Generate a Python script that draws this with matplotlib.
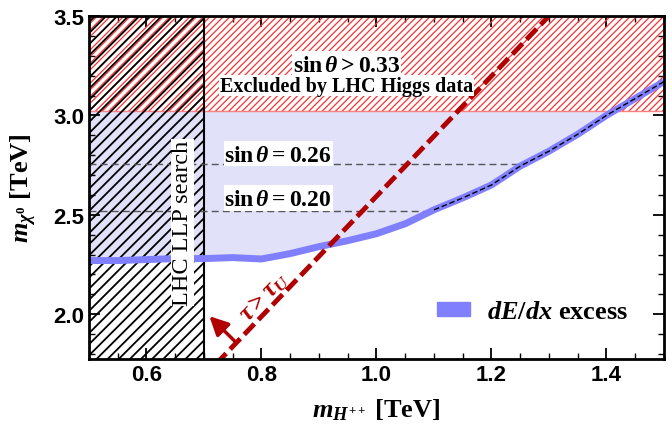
import numpy as np
import matplotlib.pyplot as plt
from matplotlib.patches import Patch

plt.rcParams['mathtext.fontset'] = 'custom'
plt.rcParams['mathtext.rm'] = 'Liberation Serif:bold'
plt.rcParams['mathtext.bf'] = 'Liberation Serif:bold'
plt.rcParams['mathtext.it'] = 'Liberation Serif:italic:bold'
plt.rcParams['hatch.linewidth'] = 1.0

# dE/dx excess band (lower edge of allowed region)
curve_x = [0.5, 0.55, 0.6, 0.65, 0.7, 0.75, 0.8, 0.85, 0.9, 0.95, 1.0,
           1.05, 1.1, 1.15, 1.2, 1.25, 1.3, 1.35, 1.4, 1.45, 1.5]
curve_y = [2.27, 2.27, 2.275, 2.28, 2.28, 2.285, 2.278, 2.305, 2.34, 2.37, 2.405,
           2.455, 2.525, 2.585, 2.65, 2.745, 2.82, 2.905, 3.0, 3.085, 3.17]

higgs_limit = 3.02          # sin theta > 0.33 excluded above this
llp_limit = 0.7             # LHC LLP search excludes below this
sin_levels = [2.756, 2.518]
sin_labels = [r'$\sin\theta = 0.26$', r'$\sin\theta = 0.20$']
sin_label_y = [2.807, 2.585]

# tau > tau_U line and arrow
tau_x = [0.721, 1.31]
tau_y = [1.75, 3.53]
arrow_tail = (0.758, 1.852)
arrow_head = (0.706, 2.0)

xlim = (0.5, 1.5)
ylim = (1.775, 3.5)

dark_red = '#b00000'

fig = plt.figure(figsize=(6.72, 4.35), dpi=100)
ax = fig.add_axes([0.1324, 0.1724, 0.8556, 0.7886])

cx = np.array(curve_x)
cy = np.array(curve_y)

# allowed (blue) region
ax.fill_between(cx, cy, higgs_limit, where=cy <= higgs_limit, interpolate=True,
                color='#e1e1fa', lw=0, zorder=1)

# Higgs exclusion hatch
with plt.rc_context({'hatch.linewidth': 0.9}):
    ax.fill_between(xlim, higgs_limit, ylim[1], facecolor='none', edgecolor='#ff3030',
                    hatch='/////', lw=0, zorder=2)
ax.plot(xlim, [higgs_limit, higgs_limit], color='#ff8080', lw=1, zorder=2)

# LLP exclusion hatch
with plt.rc_context({'hatch.linewidth': 1.3}):
    ax.fill_betweenx(ylim, xlim[0], llp_limit, facecolor='none', edgecolor='black',
                     hatch='///', lw=0, zorder=3)
ax.axvline(llp_limit, color='black', lw=1.5, zorder=3)

# sin theta dashed levels
mono = cx >= 0.85
for lev in sin_levels:
    xe = np.interp(lev, cy[mono], cx[mono])
    ax.plot([xlim[0], xe], [lev, lev], color='#555555', lw=1, dashes=(5, 3), zorder=4)

# band
ax.plot(cx, cy, color='#8080ff', lw=5, solid_capstyle='butt', zorder=5)
ax.plot(cx[cx >= 1.1], cy[cx >= 1.1], color='black', lw=1, dashes=(4, 2), zorder=6)

# tau line
ax.plot(tau_x, tau_y, color=dark_red, lw=3.5, dashes=(3, 1.2), zorder=7)
ax.annotate('', xy=arrow_head, xytext=arrow_tail,
            arrowprops=dict(arrowstyle='-|>', color=dark_red, lw=2.5, mutation_scale=28),
            zorder=7)
ax.text(0.805, 2.09, r'$\tau > \tau_U$', color=dark_red, fontsize=18,
        rotation=46, ha='center', va='center', zorder=8)

# labels
box = dict(facecolor='white', edgecolor='none', pad=0.5)
ax.text(0.948, 3.26, r'$\sin\theta > 0.33$', fontsize=17, ha='center', va='center',
        bbox=box, zorder=8)
ax.text(0.948, 3.15, 'Excluded by LHC Higgs data', fontsize=14.5, fontweight='bold',
        family='Liberation Serif', ha='center', va='center', bbox=box, zorder=8)
for lab, yy in zip(sin_labels, sin_label_y):
    ax.text(0.829, yy, lab, fontsize=17, ha='center', va='center', bbox=box, zorder=8)
ax.text(0.663, 2.46, 'LHC LLP search', fontsize=17.5, family='Liberation Serif',
        rotation=90, ha='center', va='center', bbox=box, zorder=8)

leg = ax.legend(handles=[Patch(color='#8080ff', label=r'$dE/dx$ excess')],
                loc='lower right', bbox_to_anchor=(0.98, 0.035), frameon=False,
                handlelength=1.25, handleheight=0.45, handletextpad=0.65,
                prop={'family': 'Liberation Serif', 'weight': 'bold', 'size': 19})

ax.set_xlim(xlim)
ax.set_ylim(ylim)
ax.set_xticks([0.6, 0.8, 1.0, 1.2, 1.4])
ax.set_yticks([2.0, 2.5, 3.0, 3.5])
ax.set_xticks(np.arange(0.5, 1.51, 0.05), minor=True)
ax.set_yticks(np.arange(1.8, 3.51, 0.1), minor=True)
ax.tick_params(which='both', direction='in', top=True, right=True)
ax.tick_params(which='major', length=8, width=1.3, labelsize=16)
ax.tick_params(which='minor', length=4, width=1.0)
for lab in ax.get_xticklabels() + ax.get_yticklabels():
    lab.set_family('Liberation Sans')
    lab.set_fontweight('bold')
for sp in ax.spines.values():
    sp.set_linewidth(2)
    sp.set_zorder(10)

ax.set_xlabel(r'$m_{H^{++}}$ [TeV]', fontsize=19, family='Liberation Serif',
              fontweight='bold', labelpad=8)
ax.set_ylabel(r'$m_{\chi^0}$ [TeV]', fontsize=19, family='Liberation Serif',
              fontweight='bold', labelpad=10)

fig.savefig('out.png', dpi=100)
